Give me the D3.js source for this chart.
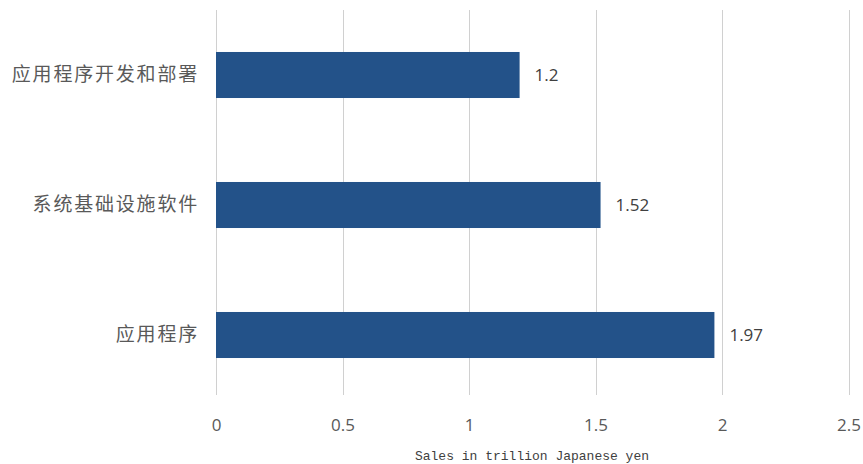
<!DOCTYPE html>
<html><head><meta charset="utf-8">
<script src="https://cdn.jsdelivr.net/npm/d3@7"></script>
<style>body{margin:0;background:#fff}</style>
</head><body>
<svg id="c" width="863" height="464"></svg>
<script>
const categories = ["应用程序开发和部署", "系统基础设施软件", "应用程序"];
const values = [1.2, 1.52, 1.97];
const tickValues = [0, 0.5, 1, 1.5, 2, 2.5];
const axisTitle = "Sales in trillion Japanese yen";

const svg = d3.select("#c");
const x = d3.scaleLinear().domain([0, 2.5]).range([216, 848.5]);
const y = d3.scaleBand().domain(categories).range([10, 400]).paddingInner(0.646).paddingOuter(0.323);

// gridlines
svg.append("g").selectAll("line").data(tickValues).join("line")
  .attr("x1", d => Math.round(x(d)) + 0.5).attr("x2", d => Math.round(x(d)) + 0.5)
  .attr("y1", 10).attr("y2", 395)
  .attr("stroke", "#d0d0d0").attr("stroke-width", 1);

// x axis tick labels
const xAxis = d3.axisBottom(x).tickValues(tickValues).tickSize(0).tickFormat(d3.format("~g"));
const gx = svg.append("g").attr("transform", "translate(0,416)").call(xAxis);
gx.select(".domain").remove();
gx.selectAll("text").attr("font-family", "'Open Sans', sans-serif").attr("font-size", 17).attr("fill", "#595959");

// y axis labels
const yAxis = d3.axisLeft(y).tickSize(0).tickPadding(17);
const gy = svg.append("g").attr("transform", "translate(216,0)").call(yAxis);
gy.select(".domain").remove();
gy.selectAll("text").attr("font-family", "'Noto Sans CJK SC', sans-serif").attr("font-size", 19)
  .attr("letter-spacing", 1.8).attr("fill", "#595959");

// bars
svg.append("g").selectAll("rect").data(values).join("rect")
  .attr("x", x(0)).attr("y", (d, i) => y(categories[i]))
  .attr("width", d => x(d) - x(0)).attr("height", y.bandwidth())
  .attr("fill", "#235289");

// data labels
svg.append("g").selectAll("text").data(values).join("text")
  .attr("x", d => x(d) + 15).attr("y", (d, i) => y(categories[i]) + y.bandwidth() / 2)
  .attr("dy", "0.35em")
  .attr("font-family", "'Open Sans', sans-serif").attr("font-size", 17).attr("fill", "#404040")
  .text(d => d);

// axis title
svg.append("text").attr("x", 532).attr("y", 455).attr("dy", "0.35em").attr("text-anchor", "middle")
  .attr("font-family", "'Liberation Mono', monospace").attr("font-size", 13).attr("fill", "#404040")
  .text(axisTitle);
</script>
</body></html>
